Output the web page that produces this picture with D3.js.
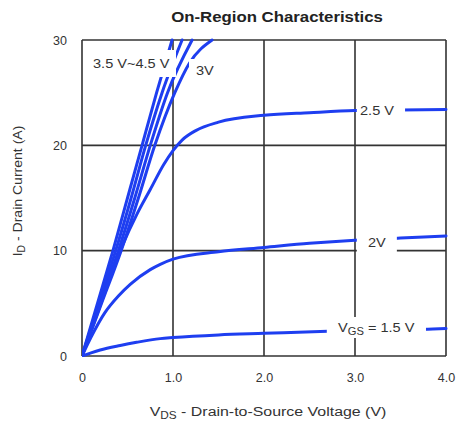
<!DOCTYPE html>
<html>
<head>
<meta charset="utf-8">
<script src="https://cdn.jsdelivr.net/npm/d3@7"></script>
<style>
  html, body { margin: 0; padding: 0; background: #fff; }
  svg { display: block; font-family: "Liberation Sans", Arial, Helvetica, sans-serif; }
</style>
</head>
<body>
<svg id="chart" width="466" height="425"></svg>
<script>
// ---- data (V_DS in volts, I_D in amps) ----
const xTicks = [0, 1, 2, 3, 4];
const yTicks = [0, 10, 20, 30];
const xTickLabels = ["0", "1.0", "2.0", "3.0", "4.0"];
const yTickLabels = ["0", "10", "20", "30"];

const curve4p5V = [[0,0],[0.17,5],[0.34,10],[0.5,15],[0.66,20],[0.82,25],[0.99,30]];
const curve4V   = [[0,0],[0.185,5],[0.37,10],[0.54,15],[0.7,20],[0.88,25],[1.1,30]];
const curve3p5V = [[0,0],[0.2,5],[0.4,10],[0.58,15],[0.75,20],[0.94,25],[1.21,30]];
const curve3V   = [[0,0],[0.215,5],[0.43,10],[0.62,15],[0.8,20],[1.02,25],[1.18,27.8],[1.43,30]];
const curve2p5V = [[0,0],[0.2,4.8],[0.45,10.6],[0.6,13.4],[0.75,15.8],[0.9,18.2],[1.0,19.5],[1.1,20.5],[1.25,21.4],[1.5,22.2],[2.0,22.85],[2.5,23.1],[3.0,23.3],[3.5,23.35],[4.0,23.4]];
const curve2V   = [[0,0],[0.1,1.8],[0.25,4.1],[0.4,5.7],[0.53,6.8],[0.75,8.2],[0.86,8.7],[1.0,9.2],[1.5,9.9],[2.0,10.3],[2.5,10.7],[3.0,11.0],[3.5,11.2],[4.0,11.4]];
const curve1p5V = [[0,0],[0.1,0.3],[0.2,0.57],[0.42,1.0],[0.6,1.3],[0.86,1.65],[1.0,1.75],[1.5,2.0],[2.0,2.15],[2.7,2.35],[3.2,2.45],[3.8,2.55],[4.0,2.6]];
const curves = [curve4p5V, curve4V, curve3p5V, curve3V, curve2p5V, curve2V, curve1p5V];

const titleText = "On-Region Characteristics";

// ---- layout ----
const svg = d3.select("#chart");
const x = d3.scaleLinear().domain([0, 4]).range([82, 446]);
const y = d3.scaleLinear().domain([0, 30]).range([356, 40]);
const blue = "#1e3ef0";
const gridColor = "#333";
const textColor = "#333";

// grid lines
svg.append("g").selectAll("line").data(xTicks).join("line")
  .attr("x1", d => x(d)).attr("x2", d => x(d))
  .attr("y1", y(0)).attr("y2", y(30))
  .attr("stroke", gridColor).attr("stroke-width", 1.6);
svg.append("g").selectAll("line").data(yTicks).join("line")
  .attr("x1", x(0)).attr("x2", x(4))
  .attr("y1", d => y(d)).attr("y2", d => y(d))
  .attr("stroke", gridColor).attr("stroke-width", 1.6);

// curves
const line = d3.line().x(d => x(d[0])).y(d => y(d[1])).curve(d3.curveMonotoneX);
svg.append("defs").append("clipPath").attr("id", "plotclip")
  .append("rect").attr("x", x(0)).attr("y", y(30) - 2).attr("width", x(4) - x(0) + 2).attr("height", y(0) - y(30) + 3);
svg.append("g").attr("clip-path", "url(#plotclip)")
  .selectAll("path").data(curves).join("path")
  .attr("d", line)
  .attr("fill", "none").attr("stroke", blue).attr("stroke-width", 3)
  .attr("stroke-linecap", "round");

// label masks (white boxes) + labels
function mask(x0, x1, y0, y1) {
  svg.append("rect").attr("x", x0).attr("y", y0)
    .attr("width", x1 - x0).attr("height", y1 - y0).attr("fill", "#fff");
}
mask(88, 176, 50, 77);      // 3.5 V~4.5 V
mask(189, 218, 59, 80);     // 3V
mask(x(3.02), x(3.55), 100, 121); // 2.5 V
mask(x(3.02), x(3.46), 231, 254); // 2V
mask(x(2.69), x(3.78), 317, 338); // VGS = 1.5 V

function label(px, py, sx, size, anchor) {
  return svg.append("g").attr("transform", `translate(${px},${py}) scale(${sx},1)`)
    .append("text").attr("font-size", size).attr("fill", textColor)
    .attr("text-anchor", anchor || "start");
}
label(93, 68, 1.12, 13).text("3.5 V~4.5 V");
label(196, 75, 1.12, 13).text("3V");
label(360, 115, 1.12, 13).text("2.5 V");
label(368, 246.5, 1.12, 13).text("2V");
const vgs = label(338, 332, 1.12, 13);
vgs.append("tspan").text("V");
vgs.append("tspan").attr("font-size", 10).attr("dy", 3).text("GS");
vgs.append("tspan").attr("dy", -3).text(" = 1.5 V");

// axes (labels only)
const xAxis = d3.axisBottom(x).tickValues(xTicks).tickSize(0).tickPadding(17)
  .tickFormat((d, i) => xTickLabels[i]);
const gx = svg.append("g").attr("transform", `translate(0,${y(0)})`).call(xAxis);
const yAxis = d3.axisLeft(y).tickValues(yTicks).tickSize(0).tickPadding(15)
  .tickFormat((d, i) => yTickLabels[i]);
const gy = svg.append("g").attr("transform", `translate(${x(0)},0)`).call(yAxis);
[gx, gy].forEach(g => {
  g.select(".domain").remove();
  g.selectAll("text").attr("font-size", 12.5).attr("fill", textColor)
    .attr("font-family", "'Liberation Sans', Arial, Helvetica, sans-serif");
});

// title
svg.append("g").attr("transform", "translate(277,22) scale(1.12,1)")
  .append("text").attr("text-anchor", "middle")
  .attr("font-size", 15).attr("font-weight", "bold").attr("fill", "#222").text(titleText);

// axis titles
const xt = label(268, 416, 1.18, 13.5, "middle");
xt.append("tspan").text("V");
xt.append("tspan").attr("font-size", 10).attr("dy", 3).text("DS");
xt.append("tspan").attr("dy", -3).text(" - Drain-to-Source Voltage (V)");

const yt = svg.append("g").attr("transform", "translate(22,191) rotate(-90) scale(1.04,1)")
  .append("text").attr("text-anchor", "middle").attr("font-size", 13.5).attr("fill", textColor);
yt.append("tspan").text("I");
yt.append("tspan").attr("font-size", 10).attr("dy", 3).text("D");
yt.append("tspan").attr("dy", -3).text(" - Drain Current (A)");
</script>
</body>
</html>
